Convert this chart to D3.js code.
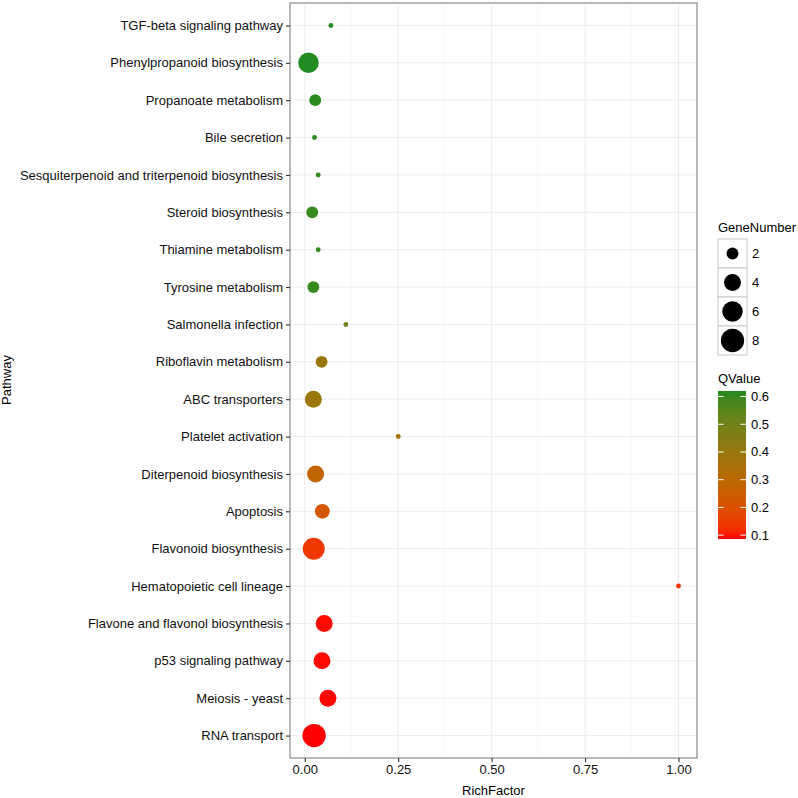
<!DOCTYPE html>
<html><head><meta charset="utf-8">
<script src="https://cdn.jsdelivr.net/npm/d3@7"></script>
<style>body{margin:0;background:#fff} text{font-family:"Liberation Sans",Arial,Helvetica,sans-serif}</style>
</head><body>
<svg id="c" width="798" height="798"></svg>
<script>
const pathways = ["TGF-beta signaling pathway","Phenylpropanoid biosynthesis","Propanoate metabolism","Bile secretion","Sesquiterpenoid and triterpenoid biosynthesis","Steroid biosynthesis","Thiamine metabolism","Tyrosine metabolism","Salmonella infection","Riboflavin metabolism","ABC transporters","Platelet activation","Diterpenoid biosynthesis","Apoptosis","Flavonoid biosynthesis","Hematopoietic cell lineage","Flavone and flavonol biosynthesis","p53 signaling pathway","Meiosis - yeast","RNA transport"];
const richFactor = [0.070,0.010,0.028,0.026,0.036,0.020,0.036,0.023,0.110,0.045,0.023,0.250,0.029,0.047,0.024,1.000,0.052,0.046,0.062,0.025];
const geneNumber = [1,6,2,1,1,2,1,2,1,2,4,1,4,3,7,1,4,4,4,8];
const qValue = [0.62,0.62,0.61,0.61,0.60,0.60,0.60,0.60,0.50,0.40,0.39,0.37,0.28,0.22,0.14,0.13,0.09,0.09,0.088,0.086];
const xTicks = [0,0.25,0.5,0.75,1];
const xMinor = [0.125,0.375,0.625,0.875];
const sizeBreaks = [2,4,6,8];
const qTicks = [0.1,0.2,0.3,0.4,0.5,0.6];

const svg = d3.select("#c");
const P = {l:290, r:697, t:3, b:758};
const font = "Liberation Sans, Arial, sans-serif";
const FS = "13px";

const xr = d3.extent(richFactor), xe = (xr[1]-xr[0])*0.05;
const x = d3.scaleLinear().domain([xr[0]-xe, xr[1]+xe]).range([P.l, P.r]);
const y = d3.scalePoint().domain(pathways).range([P.t, P.b]).padding(0.6);
const gExt = d3.extent(geneNumber);
const rLin = d3.scaleLinear().domain([0,1]).range([2.45, 11.65]);
const r = v => rLin(Math.sqrt((v-gExt[0])/(gExt[1]-gExt[0])));
const qExt = d3.extent(qValue);
const col = d3.scaleLinear().domain(qExt).range(["#ff0000","#228B22"]).interpolate(d3.interpolateLab);

// panel grid
const g = svg.append("g");
g.selectAll("line.mx").data(xMinor).join("line")
  .attr("x1",d=>x(d)).attr("x2",d=>x(d)).attr("y1",P.t).attr("y2",P.b)
  .attr("stroke","#fafafa").attr("stroke-width",1.4);
g.selectAll("line.gx").data(xTicks).join("line")
  .attr("x1",d=>x(d)).attr("x2",d=>x(d)).attr("y1",P.t).attr("y2",P.b)
  .attr("stroke","#ebebeb").attr("stroke-width",0.9);
g.selectAll("line.gy").data(pathways).join("line")
  .attr("x1",P.l).attr("x2",P.r).attr("y1",d=>y(d)).attr("y2",d=>y(d))
  .attr("stroke","#ebebeb").attr("stroke-width",0.9);

// points
const data = pathways.map((p,i)=>({p, rf:richFactor[i], n:geneNumber[i], q:qValue[i]}));
g.selectAll("circle").data(data).join("circle")
  .attr("cx",d=>x(d.rf)).attr("cy",d=>y(d.p)).attr("r",d=>r(d.n))
  .attr("fill",d=>col(d.q));

// border
svg.append("rect").attr("x",P.l).attr("y",P.t).attr("width",P.r-P.l).attr("height",P.b-P.t)
  .attr("fill","none").attr("stroke","#7f7f7f").attr("stroke-width",1.1);

// axes
const xa = svg.append("g").attr("transform",`translate(0,${P.b})`)
  .call(d3.axisBottom(x).tickValues(xTicks).tickFormat(d3.format(".2f")).tickSize(4).tickPadding(3));
const ya = svg.append("g").attr("transform",`translate(${P.l},0)`)
  .call(d3.axisLeft(y).tickSize(4).tickPadding(3));
[xa,ya].forEach(a=>{
  a.select(".domain").remove();
  a.selectAll(".tick line").attr("stroke","#333").attr("stroke-width",1.1);
  a.selectAll(".tick text").attr("fill","#111").style("font-size",FS).style("font-family",font);
});

svg.append("text").attr("x",(P.l+P.r)/2).attr("y",795).attr("text-anchor","middle")
  .style("font-size",FS).attr("fill","#000").text("RichFactor");
svg.append("text").attr("transform","translate(11,380) rotate(-90)").attr("text-anchor","middle")
  .style("font-size",FS).attr("fill","#000").text("Pathway");

// size legend
const L = {x:718, y:239, w:29, h:29};
svg.append("text").attr("x",L.x).attr("y",L.y-7).style("font-size",FS).text("GeneNumber");
const lk = svg.append("g").selectAll("g").data(sizeBreaks).join("g")
  .attr("transform",(d,i)=>`translate(${L.x},${L.y+i*L.h})`);
lk.append("rect").attr("width",L.w).attr("height",L.h).attr("fill","#fff").attr("stroke","#cccccc").attr("stroke-width",1.1);
lk.append("circle").attr("cx",L.w/2).attr("cy",L.h/2).attr("r",d=>r(d)).attr("fill","#000");
lk.append("text").attr("x",L.w+5).attr("y",L.h/2+4.5).style("font-size",FS).text(d=>d);

// colour bar
const B = {x:718, y0:391, y1:539, w:28};
svg.append("text").attr("x",B.x).attr("y",B.y0-8).style("font-size",FS).text("QValue");
const defs = svg.append("defs");
const grad = defs.append("linearGradient").attr("id","qg").attr("x1",0).attr("x2",0).attr("y1",1).attr("y2",0);
d3.range(0,1.0001,0.05).forEach(t=>{
  grad.append("stop").attr("offset",t).attr("stop-color",col(qExt[0]+t*(qExt[1]-qExt[0])));
});
svg.append("rect").attr("x",B.x).attr("y",B.y0).attr("width",B.w).attr("height",B.y1-B.y0).attr("fill","url(#qg)");
const qy = d3.scaleLinear().domain(qExt).range([B.y1,B.y0]);
const ct = svg.append("g").selectAll("g").data(qTicks).join("g").attr("transform",d=>`translate(0,${qy(d)})`);
ct.append("line").attr("x1",B.x).attr("x2",B.x+B.w/5).attr("stroke","#fff").attr("stroke-width",1);
ct.append("line").attr("x1",B.x+B.w*4/5).attr("x2",B.x+B.w).attr("stroke","#fff").attr("stroke-width",1);
ct.append("text").attr("x",B.x+B.w+5).attr("y",4.5).style("font-size",FS).text(d=>d.toFixed(1));
</script>
</body></html>
